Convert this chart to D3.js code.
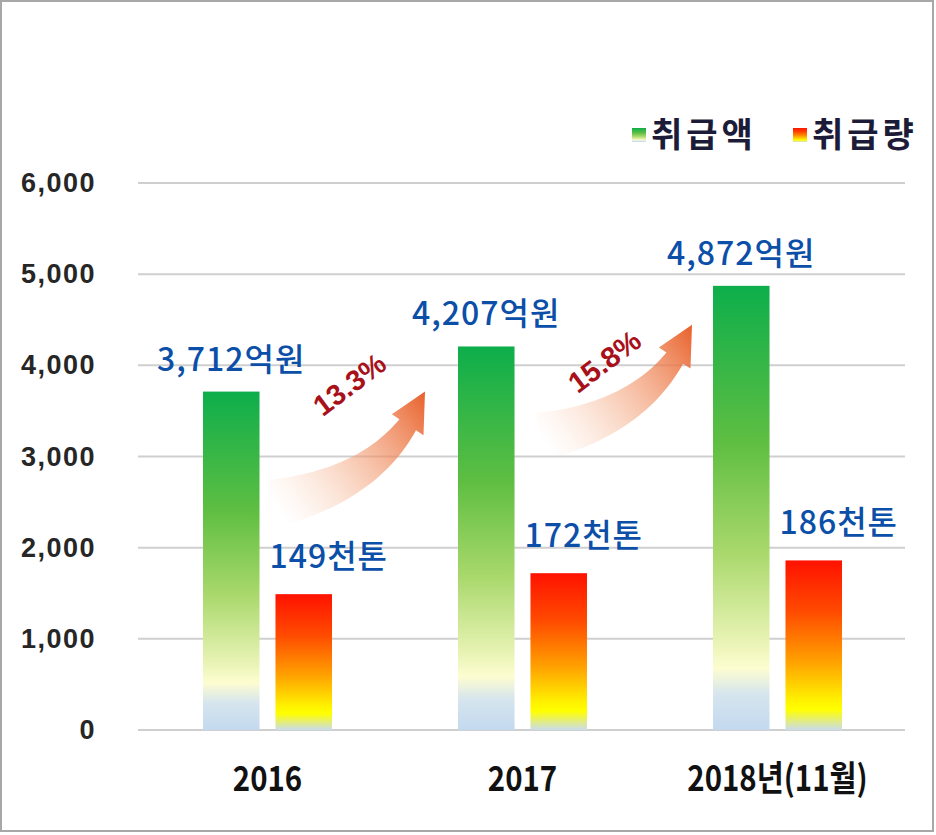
<!DOCTYPE html>
<html>
<head>
<meta charset="utf-8">
<script src="https://d3js.org/d3.v7.min.js"></script>
<style>
    body { margin: 0; background: #fff; }
    svg text { font-family: "Liberation Sans", "Noto Sans CJK KR", sans-serif; }
    .kr { font-family: "Noto Sans CJK KR", "Liberation Sans", sans-serif; }
</style>
</head>
<body>
<script>
var years = ["2016", "2017", "2018년(11월)"];
var amount = [3712, 4207, 4872];      // 취급액, 억원
var volume = [149, 172, 186];         // 취급량, 천톤 (drawn x10 on the same axis)
var yTicks = [0, 1000, 2000, 3000, 4000, 5000, 6000];
var legendNames = ["취급액", "취급량"];

var width = 936, height = 835;

var svg = d3.select("body").append("svg")
    .attr("width", width)
    .attr("height", height);

var defs = svg.append("defs");

// green bar fill
var gGreen = defs.append("linearGradient").attr("id", "green")
    .attr("x1", 0).attr("y1", 0).attr("x2", 0).attr("y2", 1);
[[0, "#0DAE4B"], [0.35, "#5EBE42"], [0.6, "#A9D86C"], [0.8, "#E8F3B4"], [0.86, "#FDFDD0"], [0.92, "#D6E5EE"], [1, "#C3D9EF"]]
    .forEach(function(s) { gGreen.append("stop").attr("offset", s[0]).attr("stop-color", s[1]); });

// red bar fill
var gRed = defs.append("linearGradient").attr("id", "red")
    .attr("x1", 0).attr("y1", 0).attr("x2", 0).attr("y2", 1);
[[0, "#FF1200"], [0.3, "#FF4A00"], [0.6, "#FFA200"], [0.82, "#FFF000"], [0.88, "#FFFF00"], [1, "#CADCEC"]]
    .forEach(function(s) { gRed.append("stop").attr("offset", s[0]).attr("stop-color", s[1]); });

// frame
svg.append("rect")
    .attr("x", 1).attr("y", 1)
    .attr("width", 932).attr("height", 830)
    .attr("fill", "none")
    .attr("stroke", "#A8A8A8")
    .attr("stroke-width", 2);

var x0 = d3.scaleBand().domain(years).range([140, 905]);
var x1 = d3.scaleBand().domain(["amount", "volume"]).range([63, 192]).paddingInner(0.22);
var y = d3.scaleLinear().domain([0, 6000]).range([730, 183]);

// grid lines
svg.append("g").selectAll("line")
    .data(yTicks)
    .enter().append("line")
    .attr("x1", 138).attr("x2", 905)
    .attr("y1", function(d) { return y(d); })
    .attr("y2", function(d) { return y(d); })
    .attr("stroke", "#CFCFCF")
    .attr("stroke-width", 2);

// y axis labels
svg.append("g").selectAll("text")
    .data(yTicks)
    .enter().append("text")
    .attr("x", 96)
    .attr("y", function(d) { return y(d) + 9; })
    .attr("text-anchor", "end")
    .attr("font-size", 27)
    .attr("font-weight", "bold")
    .attr("letter-spacing", 1.5)
    .attr("fill", "#262626")
    .text(d3.format(","));

// x axis labels
svg.append("g").selectAll("text")
    .data(years)
    .enter().append("text")
    .attr("x", function(d) { return x0(d) + x0.bandwidth() / 2; })
    .attr("y", 791)
    .attr("text-anchor", "middle")
    .attr("font-size", 35)
    .attr("font-weight", "bold")
    .attr("fill", "#111")
    .attr("transform", function(d) {
        var cx = x0(d) + x0.bandwidth() / 2;
        return "translate(" + cx + ",0) scale(0.84,1) translate(" + (-cx) + ",0)";
    })
    .style("font-family", "'Liberation Sans Narrow', 'Noto Sans CJK KR', sans-serif")
    .text(function(d) { return d; });

// bars
var groups = svg.append("g").selectAll("g")
    .data(years)
    .enter().append("g")
    .attr("transform", function(d) { return "translate(" + x0(d) + ",0)"; });

groups.append("rect")
    .attr("x", x1("amount"))
    .attr("width", x1.bandwidth())
    .attr("y", function(d, i) { return y(amount[i]); })
    .attr("height", function(d, i) { return y(0) - y(amount[i]); })
    .attr("fill", "url(#green)");

groups.append("rect")
    .attr("x", x1("volume"))
    .attr("width", x1.bandwidth())
    .attr("y", function(d, i) { return y(volume[i] * 10); })
    .attr("height", function(d, i) { return y(0) - y(volume[i] * 10); })
    .attr("fill", "url(#red)");

// value labels
groups.append("text")
    .attr("class", "kr")
    .attr("x", x1("amount") + x1.bandwidth() / 2)
    .attr("y", function(d, i) { return y(amount[i]) - 21; })
    .attr("text-anchor", "middle")
    .attr("font-size", 32)
    .attr("font-weight", 500)
    .attr("letter-spacing", 1)
    .attr("fill", "#0B4FA8")
    .text(function(d, i) { return d3.format(",")(amount[i]) + "억원"; });

groups.append("text")
    .attr("class", "kr")
    .attr("x", x1("volume") + x1.bandwidth() / 2 + 25)
    .attr("y", function(d, i) { return y(volume[i] * 10) - 26; })
    .attr("text-anchor", "middle")
    .attr("font-size", 32)
    .attr("font-weight", 500)
    .attr("letter-spacing", 1)
    .attr("fill", "#0B4FA8")
    .text(function(d, i) { return volume[i] + "천톤"; });

// growth arrows
function bez(p0, c, p1, t) {
    var u = 1 - t;
    return [u * u * p0[0] + 2 * u * t * c[0] + t * t * p1[0],
            u * u * p0[1] + 2 * u * t * c[1] + t * t * p1[1]];
}

for (var i = 0; i < amount.length - 1; i++) {
    var tip = [x0(years[i + 1]) + x1("amount") - 33 + i * 12, y(amount[i + 1]) + 45 - i * 6];
    var tail = [tip[0] - 152, tip[1] + 112];
    var ctrl = [tip[0] - 35, tip[1] + 90];
    var gid = "arr" + i;
    var ag = defs.append("linearGradient").attr("id", gid)
        .attr("gradientUnits", "userSpaceOnUse")
        .attr("x1", tail[0]).attr("y1", tail[1])
        .attr("x2", tip[0]).attr("y2", tip[1]);
    ag.append("stop").attr("offset", 0).attr("stop-color", "#F8C8A8").attr("stop-opacity", 0);
    ag.append("stop").attr("offset", 0.45).attr("stop-color", "#F3A178").attr("stop-opacity", 0.5);
    ag.append("stop").attr("offset", 1).attr("stop-color", "#E8602A").attr("stop-opacity", 1);

    var left = [], right = [];
    var tHead = 0.8, n = 30;
    for (var k = 0; k <= n; k++) {
        var t = tHead * k / n;
        var p = bez(tail, ctrl, tip, t);
        var q = bez(tail, ctrl, tip, Math.min(t + 0.01, 1));
        var dx = q[0] - p[0], dy = q[1] - p[1], len = Math.sqrt(dx * dx + dy * dy);
        var nx = -dy / len, ny = dx / len;
        var w = 24 - 14 * (t / tHead);
        left.push([p[0] + nx * w, p[1] + ny * w]);
        right.push([p[0] - nx * w, p[1] - ny * w]);
    }
    var pb = bez(tail, ctrl, tip, tHead);
    var pb2 = bez(tail, ctrl, tip, tHead + 0.01);
    var ddx = pb2[0] - pb[0], ddy = pb2[1] - pb[1], dl = Math.sqrt(ddx * ddx + ddy * ddy);
    var hx = -ddy / dl, hy = ddx / dl;
    var pts = left.concat([[pb[0] + hx * 19, pb[1] + hy * 19], tip, [pb[0] - hx * 19, pb[1] - hy * 19]])
        .concat(right.reverse());
    svg.append("path")
        .attr("d", "M" + pts.map(function(p) { return p[0].toFixed(1) + "," + p[1].toFixed(1); }).join("L") + "Z")
        .attr("fill", "url(#" + gid + ")");

    var growth = (amount[i + 1] / amount[i] - 1) * 100;
    var lx = x0(years[i]) + x1("amount") + x1.bandwidth() + 90;
    var ly = y(amount[i]) - 7 + i * 22;
    svg.append("text")
        .attr("x", lx).attr("y", ly)
        .attr("text-anchor", "middle")
        .attr("dominant-baseline", "central")
        .attr("font-size", 29)
        .attr("font-weight", "bold")
        .attr("fill", "#A8101A")
        .attr("transform", "rotate(-37," + lx + "," + ly + ")")
        .text(growth.toFixed(1) + "%");
}

// legend
var legendFills = ["url(#green)", "url(#red)"];
var legendX = [632, 793];
var lg = svg.append("g").selectAll("g")
    .data(legendNames)
    .enter().append("g")
    .attr("transform", function(d, i) { return "translate(" + legendX[i] + ",128)"; });

lg.append("rect")
    .attr("width", 14).attr("height", 14)
    .attr("fill", function(d, i) { return legendFills[i]; });

lg.append("text")
    .attr("class", "kr")
    .attr("x", 19)
    .attr("y", 19)
    .attr("font-size", 34)
    .attr("font-weight", "bold")
    .attr("letter-spacing", 4)
    .attr("fill", "#1C1C38")
    .text(function(d) { return d; });
</script>
</body>
</html>
